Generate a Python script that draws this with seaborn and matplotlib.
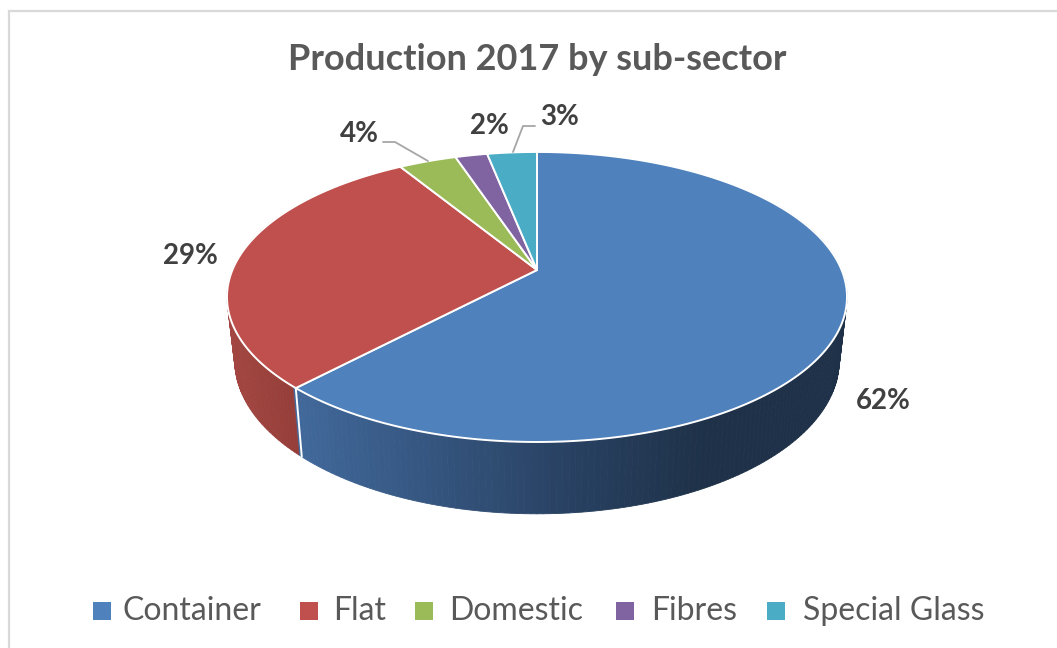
import numpy as np
import matplotlib
matplotlib.use('Agg')
import matplotlib.pyplot as plt
import seaborn as sns

# data
SECTORS = ['Container', 'Flat', 'Domestic', 'Fibres', 'Special Glass']
SHARES = [62.0, 29.3, 3.6, 2.0, 3.1]
COLORS = ['#4f81bd', '#c0504d', '#9bbb59', '#8064a2', '#4bacc6']
TITLE = 'Production 2017 by sub-sector'

# where the labels and legend sit, in pixels
LABEL_POS = [(883, 401), (190, 256), (359, 134), (489, 126), (560, 117)]
LEGEND_MARK_X = [102, 309, 424, 625, 776]
LEGEND_TEXT_X = [123, 333, 449, 651, 803]

# perspective of the disc: centre, half width, half height, tilt
TOP = dict(yc=270, a=304.6, b=140, k=0.186)
BOTTOM = dict(yc=332, a=297, b=148, k=0.186)
XC = 537


def rim(theta, yc, a, b, k):
    # theta in radians, clockwise from 12 o'clock
    u, v = np.sin(theta), np.cos(theta)
    d = 1 + k * v
    return XC + a * u / d, yc - b * v / d


def wall_color(x, sector):
    if sector == 0:
        return np.array([np.interp(x, [300, 540, 700], c) for c in ([0x41, 0x2b, 0x1e], [0x69, 0x45, 0x31], [0x9b, 0x68, 0x48])]) / 255
    return np.array([np.interp(x, [236, 295], c) for c in ([0xa3, 0x96], [0x46, 0x3f], [0x41, 0x3a])]) / 255


sns.set_theme(style='white')
plt.rcParams['font.family'] = ['Lato', 'DejaVu Sans']

fig = plt.figure(figsize=(10.57, 6.48), dpi=100)
ax = fig.add_axes([0, 0, 1, 1])
ax.set_xlim(0, 1057)
ax.set_ylim(648, 0)
ax.axis('off')

# chart frame: only left and top show in the crop
ax.plot([9, 9, 1057], [648, 11, 11], color='#d9d9d9', lw=1.6, solid_joinstyle='miter')

palette = sns.color_palette(COLORS)
edges = np.radians(np.concatenate([[0], np.cumsum(SHARES)]) * 3.6)

# side wall
wall_t = np.radians(np.linspace(60, 300, 241))
for t0, t1 in zip(wall_t[:-1], wall_t[1:]):
    sector = 0 if t0 < edges[1] else 1
    x0, y0 = rim(t0, **TOP)
    x1, y1 = rim(t1, **TOP)
    x2, y2 = rim(t1, **BOTTOM)
    x3, y3 = rim(t0, **BOTTOM)
    c = wall_color((x2 + x3) / 2, sector)
    ax.fill([x0, x1, x2, x3], [y0, y1, y2, y3], color=c, lw=0.6, zorder=2)

# seam between container and flat on the wall
sx0, sy0 = rim(edges[1], **TOP)
sx1, sy1 = rim(edges[1], **BOTTOM)
ax.plot([sx0, sx1], [sy0, sy1], color='white', lw=1.4, zorder=3)

# top face
for i, color in enumerate(palette):
    t = np.linspace(edges[i], edges[i + 1], 200)
    x, y = rim(t, **TOP)
    ax.fill(np.r_[XC, x], np.r_[TOP['yc'], y], facecolor=color, edgecolor='white', lw=1.4, zorder=4,
            joinstyle='round')

# leader lines
ax.plot([383, 395, 428], [142, 142, 161], color='#a6a6a6', lw=1.3, zorder=5)
ax.plot([535, 523, 513], [126, 126, 152], color='#a6a6a6', lw=1.3, zorder=5)

# labels
for (lx, ly), share in zip(LABEL_POS, SHARES):
    ax.text(lx, ly, f'{share:.0f}%', ha='center', va='center', fontsize=20, fontweight='bold', color='#404040', zorder=6)

ax.text(537, 59, TITLE, ha='center', va='center', fontsize=26, fontweight='bold', color='#595959')

# legend
sns.scatterplot(x=LEGEND_MARK_X, y=[611] * 5, hue=SECTORS, palette=palette, marker='s', s=170,
                linewidth=0, legend=False, ax=ax, zorder=6)
for lx, name in zip(LEGEND_TEXT_X, SECTORS):
    ax.text(lx, 611, name, ha='left', va='center', fontsize=23, color='#595959')

ax.set_xlim(0, 1057)
ax.set_ylim(648, 0)
fig.savefig('out.png', dpi=100, facecolor='white')
